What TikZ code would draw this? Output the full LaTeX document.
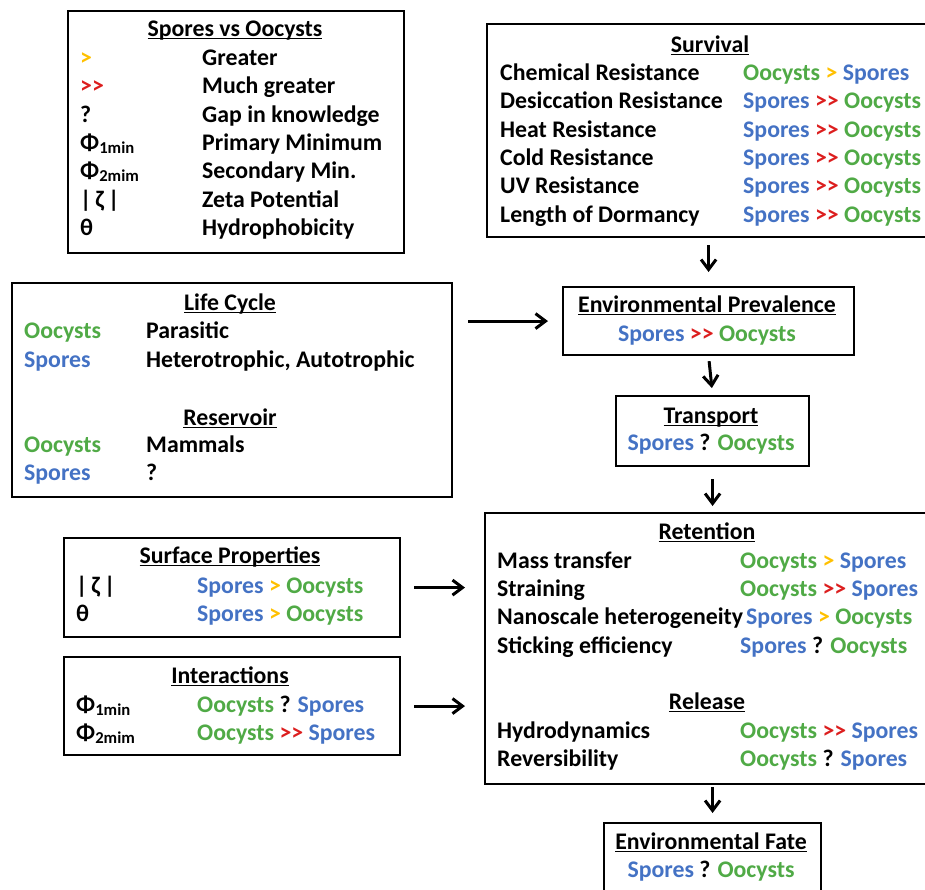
\documentclass[tikz,border=0pt]{standalone}
\usepackage{fontspec}
\setmainfont{Carlito}
\usepackage{tikz}
\usetikzlibrary{positioning, calc}
\usetikzlibrary{arrows.meta}
\definecolor{sporeblue}{RGB}{68,114,196}
\definecolor{oocystgreen}{RGB}{80,170,70}
\definecolor{gtgold}{RGB}{255,192,0}
\definecolor{mgtred}{RGB}{220,30,30}
\newcommand{\spores}{\textcolor{sporeblue}{Spores}}
\newcommand{\oocysts}{\textcolor{oocystgreen}{Oocysts}}
\newcommand{\grt}{\textcolor{gtgold}{>}}
\newcommand{\mgrt}{\textcolor{mgtred}{>\kern0pt>}}
\newcommand{\titleul}[1]{\setbox0\hbox{#1}\rlap{\rule[-3pt]{\wd0}{1.5pt}}\box0}
\tikzstyle{panel}=[rectangle,draw=black,line width=2.2pt,anchor=north west,
inner sep=0pt]
\tikzstyle{textbox}=[inner sep=0pt,anchor=base west,
font=\fontsize{23.8}{28}\selectfont\bfseries]
\tikzstyle{titlebox}=[textbox,anchor=base]
\tikzstyle{edgepath} = [-{Straight Barb[length=10pt,width=15pt]},line width=3pt]

\begin{document}
\begin{tikzpicture}[x=1pt, y=-1pt]
    \useasboundingbox (0,0) rectangle (925,889);
    \clip (0,0) rectangle (925,889);
    
    % boxes
    \node[panel, minimum width=336pt, minimum height=242pt] (legend) at (67,10) {};
    \node[panel, minimum width=449pt, minimum height=213pt] (surv) at (486,23) {};
    \node[panel, minimum width=440pt, minimum height=214pt] (life) at (11,282) {};
    \node[panel, minimum width=291pt, minimum height=68pt] (prev) at (562,286) {};
    \node[panel, minimum width=193pt, minimum height=70pt] (trans) at (615,395) {};
    \node[panel, minimum width=451pt, minimum height=271pt] (ret) at (484,512) {};
    \node[panel, minimum width=336pt, minimum height=99pt] (surf) at (63,537) {};
    \node[panel, minimum width=336pt, minimum height=98pt] (inter) at (63,656) {};
    \node[panel, minimum width=217pt, minimum height=80pt] (fate) at (603,822) {};
    
    % legend
    \node[titlebox] (legendtitle) at (235,36) {\titleul{Spores vs Oocysts}};
    \node[textbox] (lsym1) at (80,65) {\grt};
    \node[textbox] (ldesc1) at (202,65) {Greater};
    \node[textbox] (lsym2) at (80,93) {\mgrt};
    \node[textbox] (ldesc2) at (202,93) {Much greater};
    \node[textbox] (lsym3) at (80,122) {?};
    \node[textbox] (ldesc3) at (202,122) {Gap in knowledge};
    \node[textbox] (lsym4) at (80,150) {Φ\textsubscript{1min}};
    \node[textbox] (ldesc4) at (202,150) {Primary Minimum};
    \node[textbox] (lsym5) at (80,178) {Φ\textsubscript{2mim}};
    \node[textbox] (ldesc5) at (202,178) {Secondary Min.};
    \node[textbox] (lsym6) at (80,207) {|\,ζ\,|};
    \node[textbox] (ldesc6) at (202,207) {Zeta Potential};
    \node[textbox] (lsym7) at (80,235) {θ};
    \node[textbox] (ldesc7) at (202,235) {Hydrophobicity};
    
    % survival
    \node[titlebox] (survtitle) at (710,52) {\titleul{Survival}};
    \node[textbox] (s1) at (500,80) {Chemical Resistance};
    \node[textbox] (s1c) at (743,80) {\oocysts{} \grt{} \spores};
    \node[textbox] (s2) at (500,108) {Desiccation Resistance};
    \node[textbox] (s2c) at (743,108) {\spores{} \mgrt{} \oocysts};
    \node[textbox] (s3) at (500,137) {Heat Resistance};
    \node[textbox] (s3c) at (743,137) {\spores{} \mgrt{} \oocysts};
    \node[textbox] (s4) at (500,165) {Cold Resistance};
    \node[textbox] (s4c) at (743,165) {\spores{} \mgrt{} \oocysts};
    \node[textbox] (s5) at (500,193) {UV Resistance};
    \node[textbox] (s5c) at (743,193) {\spores{} \mgrt{} \oocysts};
    \node[textbox] (s6) at (500,222) {Length of Dormancy};
    \node[textbox] (s6c) at (743,222) {\spores{} \mgrt{} \oocysts};
    
    % life cycle and reservoir
    \node[titlebox] (lifetitle) at (230,310) {\titleul{Life Cycle}};
    \node[textbox] (lc1) at (24,338) {\oocysts};
    \node[textbox] (lc1d) at (146,338) {Parasitic};
    \node[textbox] (lc2) at (24,367) {\spores};
    \node[textbox] (lc2d) at (146,367) {Heterotrophic, Autotrophic};
    \node[titlebox] (restitle) at (230,425) {\titleul{Reservoir}};
    \node[textbox] (rs1) at (24,452) {\oocysts};
    \node[textbox] (rs1d) at (146,452) {Mammals};
    \node[textbox] (rs2) at (24,480) {\spores};
    \node[textbox] (rs2d) at (146,480) {?};
    
    % prevalence, transport, fate
    \node[titlebox] (prevtitle) at (707,312) {\titleul{Environmental Prevalence}};
    \node[titlebox] (prevc) at (707,341) {\spores{} \mgrt{} \oocysts};
    \node[titlebox] (transtitle) at (711,423) {\titleul{Transport}};
    \node[titlebox] (transc) at (711,450) {\spores{} ? \oocysts};
    \node[titlebox] (fatetitle) at (711,849) {\titleul{Environmental Fate}};
    \node[titlebox] (fatec) at (711,877) {\spores{} ? \oocysts};
    
    % surface properties and interactions
    \node[titlebox] (surftitle) at (230,563) {\titleul{Surface Properties}};
    \node[textbox] (sp1) at (76,593) {|\,ζ\,|};
    \node[textbox] (sp1c) at (197,593) {\spores{} \grt{} \oocysts};
    \node[textbox] (sp2) at (76,621) {θ};
    \node[textbox] (sp2c) at (197,621) {\spores{} \grt{} \oocysts};
    \node[titlebox] (intertitle) at (230,683) {\titleul{Interactions}};
    \node[textbox] (in1) at (76,712) {Φ\textsubscript{1min}};
    \node[textbox] (in1c) at (197,712) {\oocysts{} ? \spores};
    \node[textbox] (in2) at (76,740) {Φ\textsubscript{2mim}};
    \node[textbox] (in2c) at (197,740) {\oocysts{} \mgrt{} \spores};
    
    % retention and release
    \node[titlebox] (rettitle) at (707,539) {\titleul{Retention}};
    \node[textbox] (rt1) at (497,568) {Mass transfer};
    \node[textbox] (rt1c) at (740,568) {\oocysts{} \grt{} \spores};
    \node[textbox] (rt2) at (497,596) {Straining};
    \node[textbox] (rt2c) at (740,596) {\oocysts{} \mgrt{} \spores};
    \node[textbox] (rt3) at (497,624) {Nanoscale heterogeneity};
    \node[textbox] (rt3c) at (746,624) {\spores{} \grt{} \oocysts};
    \node[textbox] (rt4) at (497,653) {Sticking efficiency};
    \node[textbox] (rt4c) at (740,653) {\spores{} ? \oocysts};
    \node[titlebox] (reltitle) at (707,709) {\titleul{Release}};
    \node[textbox] (rl1) at (497,738) {Hydrodynamics};
    \node[textbox] (rl1c) at (740,738) {\oocysts{} \mgrt{} \spores};
    \node[textbox] (rl2) at (497,766) {Reversibility};
    \node[textbox] (rl2c) at (740,766) {\oocysts{} ? \spores};
    
    \path[edgepath]
    (surv.south -| prev.north) edge[shorten <=7pt, shorten >=14pt] (prev.north)
    (prev.south) edge[shorten <=5pt, shorten >=7pt] (trans.north)
    (trans.south) edge[shorten <=12pt, shorten >=6pt] (trans.south |- ret.north)
    (ret.south -| fate.north) edge[shorten <=2pt, shorten >=9pt] (fate.north)
    (life.east |- prev.west) edge[shorten <=15pt, shorten >=14pt] (prev.west)
    (surf.east) edge[shorten <=13pt, shorten >=19pt] (surf.east -| ret.west)
    (inter.east) edge[shorten <=13pt, shorten >=19pt] (inter.east -| ret.west);
\end{tikzpicture}
\end{document}
